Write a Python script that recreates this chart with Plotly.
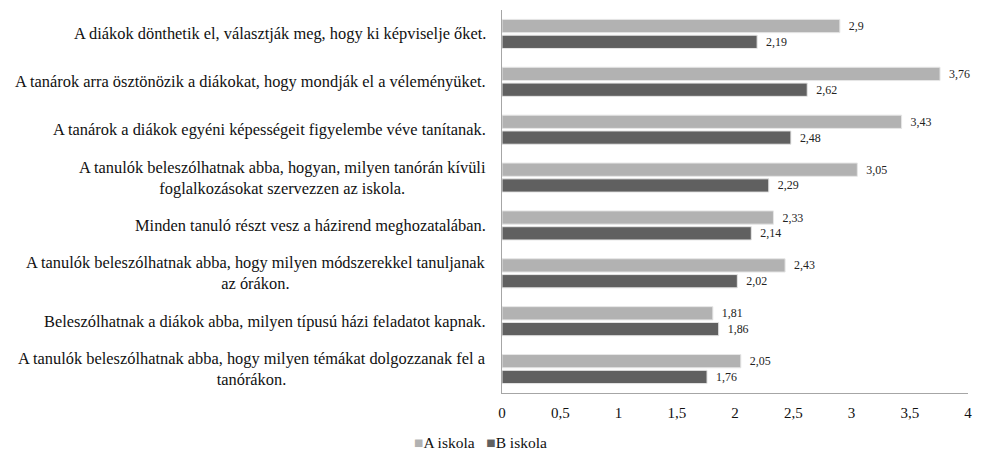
import plotly.graph_objects as go

categories = [
    "A diákok dönthetik el, választják meg, hogy ki képviselje őket.",
    "A tanárok arra ösztönözik a diákokat, hogy mondják el a véleményüket.",
    "A tanárok a diákok egyéni képességeit figyelembe véve tanítanak.",
    "A tanulók beleszólhatnak abba, hogyan, milyen tanórán kívüli<br>foglalkozásokat szervezzen az iskola.",
    "Minden tanuló részt vesz a házirend meghozatalában.",
    "A tanulók beleszólhatnak abba, hogy milyen módszerekkel tanuljanak<br>az órákon.",
    "Beleszólhatnak a diákok abba, milyen típusú házi feladatot kapnak.",
    "A tanulók beleszólhatnak abba, hogy milyen témákat dolgozzanak fel a<br>tanórákon.",
]
a_iskola = [2.9, 3.76, 3.43, 3.05, 2.33, 2.43, 1.81, 2.05]
b_iskola = [2.19, 2.62, 2.48, 2.29, 2.14, 2.02, 1.86, 1.76]
x_ticks = [0, 0.5, 1, 1.5, 2, 2.5, 3, 3.5, 4]
series_names = ["A iskola", "B iskola"]
series_colors = ["#b2b2b2", "#606060"]

FONT = "Times New Roman"


def fmt(v):
    return "  " + f"{v:g}".replace(".", ",")


fig = go.Figure()
for name, vals, col in zip(series_names, [a_iskola, b_iskola], series_colors):
    fig.add_trace(go.Bar(
        name=name, y=categories, x=vals, orientation="h",
        marker=dict(color=col, line=dict(color="#e6e6e6", width=1)),
        text=[fmt(v) for v in vals], textposition="outside",
        textfont=dict(size=13.5, color="#222222", family=FONT), cliponaxis=False,
        showlegend=False,
    ))

# category labels as centered annotations (multi-line centered like the original)
for c in categories:
    fig.add_annotation(
        x=0, xref="paper", y=c, yref="y", text=c, showarrow=False,
        xanchor="right", align="center", xshift=-14,
        font=dict(size=16.4, color="#111111", family=FONT),
    )

# compact legend like the original (small square right before the name)
legend_text = "   ".join(
    f'<span style="color:{col}">■</span>{name}'
    for name, col in zip(series_names, series_colors)
)
fig.add_annotation(
    x=-0.047, xref="paper", y=-0.128, yref="paper", text=legend_text,
    showarrow=False, xanchor="center", yanchor="middle",
    font=dict(size=15.5, color="#111111", family=FONT),
)

# page body has an 8px margin, so the figure is a bit smaller than the window
fig.update_layout(
    width=976, height=445,
    margin=dict(l=494, r=16, t=2, b=60, autoexpand=False),
    plot_bgcolor="white", paper_bgcolor="white",
    barmode="group", bargap=0.34, bargroupgap=0.16,
    separators=", ",
    font=dict(family=FONT, size=15, color="#111111"),
    showlegend=False,
    xaxis=dict(
        range=[0, 4], tickvals=x_ticks, ticktext=[f"{t:g}".replace(".", ",") for t in x_ticks],
        showgrid=False, zeroline=False, showline=True, linecolor="#a6a6a6", linewidth=1,
        ticks="", tickfont=dict(size=15), ticklabelstandoff=6,
    ),
    yaxis=dict(
        autorange="reversed", showticklabels=False, showgrid=False,
        showline=True, linecolor="#a6a6a6", linewidth=1, ticks="",
    ),
)

fig.write_html("out.html")
